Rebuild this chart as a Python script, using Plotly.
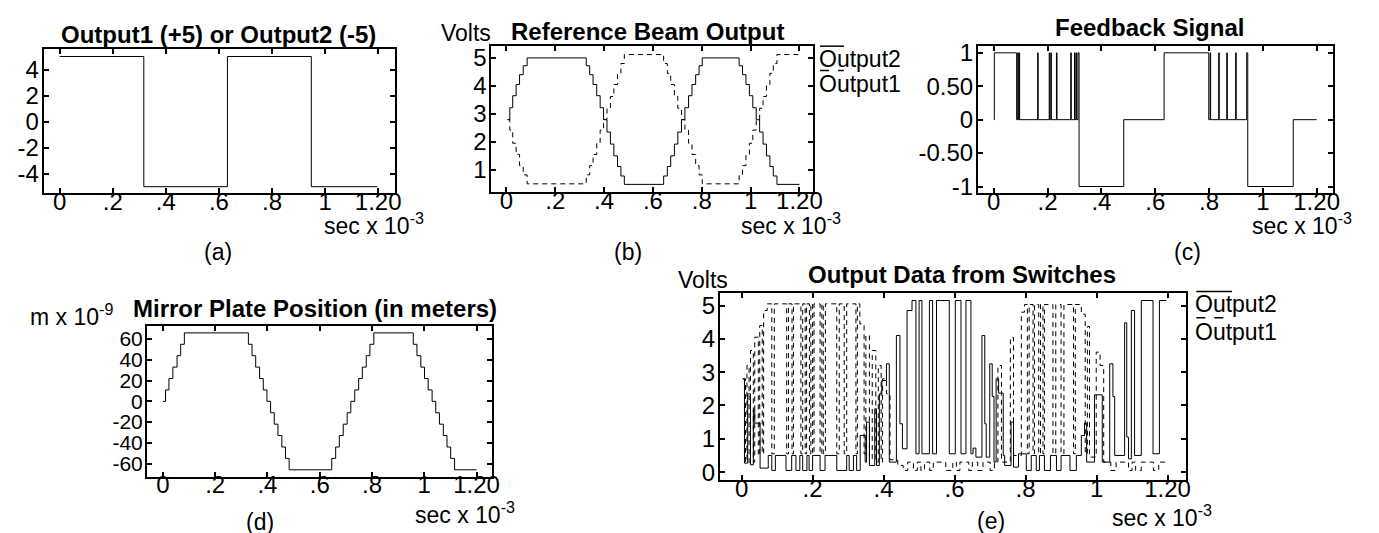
import plotly.graph_objects as go

W, H = 1379, 533
FONT = "Liberation Sans, Arial, Helvetica, sans-serif"

# ---------------- data (time in sec x 10^-3) ----------------
# (a) Output1 (+5) or Output2 (-5)
out_t = [0.000, 0.317, 0.632, 0.948, 1.197]
out_v = [5, -5, 5, -5, -5]

# (b) Reference beam output
b_t = [0.005, 0.014, 0.026, 0.040, 0.054, 0.069, 0.085,
       0.327, 0.341, 0.355, 0.370, 0.384, 0.398, 0.412, 0.426, 0.440, 0.455, 0.469, 0.483,
       0.644, 0.659, 0.673, 0.688, 0.702, 0.717, 0.731, 0.746, 0.760, 0.775, 0.789, 0.802,
       0.953, 0.967, 0.981, 0.995, 1.009, 1.023, 1.037, 1.051, 1.065, 1.079, 1.093, 1.108,
       1.200]
b_out2 = [2.79, 3.22, 3.65, 4.05, 4.40, 4.72, 5.00,
          4.72, 4.40, 4.05, 3.65, 3.22, 2.79, 2.35, 1.92, 1.50, 1.12, 0.78, 0.48,
          0.78, 1.12, 1.50, 1.92, 2.35, 2.79, 3.22, 3.65, 4.05, 4.40, 4.72, 5.00,
          4.72, 4.40, 4.05, 3.65, 3.22, 2.79, 2.35, 1.92, 1.50, 1.12, 0.78, 0.48,
          0.48]
b_out1 = [2.80, 2.42, 1.95, 1.55, 1.15, 0.82, 0.50,
          0.82, 1.15, 1.55, 1.95, 2.42, 2.80, 3.20, 3.62, 4.05, 4.45, 4.80, 5.12,
          4.80, 4.45, 4.05, 3.62, 3.20, 2.80, 2.42, 1.95, 1.55, 1.15, 0.82, 0.50,
          0.82, 1.15, 1.55, 1.95, 2.42, 2.80, 3.20, 3.62, 4.05, 4.45, 4.80, 5.12,
          5.12]

# (c) Feedback signal
fb_t = [0.000, 0.002, 0.085, 0.089, 0.091, 0.094, 0.096, 0.163, 0.165, 0.206, 0.208,
        0.212, 0.214, 0.233, 0.235, 0.286, 0.288, 0.300, 0.302, 0.306, 0.308, 0.313,
        0.317, 0.483, 0.633, 0.799, 0.804, 0.806, 0.836, 0.838, 0.866, 0.868, 0.899,
        0.901, 0.940, 0.944, 1.113, 1.200]
fb_v = [0, 1, 0, 1, 0, 1, 0, 1, 0, 1, 0,
        1, 0, 1, 0, 1, 0, 1, 0, 1, 0, 1,
        -1, 0, 1, 0, 1, 0, 1, 0, 1, 0, 1,
        0, 1, -1, 0, 0]

# (d) Mirror plate position (m x 10^-9)
mp_t = [0.000, 0.010, 0.023, 0.038, 0.054, 0.068, 0.082,
        0.327, 0.341, 0.355, 0.370, 0.384, 0.398, 0.412, 0.426, 0.440, 0.455, 0.469, 0.483,
        0.646, 0.661, 0.675, 0.690, 0.705, 0.719, 0.734, 0.749, 0.763, 0.778, 0.792, 0.807,
        0.958, 0.972, 0.987, 1.001, 1.015, 1.030, 1.044, 1.058, 1.073, 1.087, 1.101, 1.116,
        1.200]
mp_v = [0, 11, 22, 33, 44, 55, 66,
        55, 44, 33, 22, 11, 0, -11, -22, -33, -44, -55, -66,
        -55, -44, -33, -22, -11, 0, 11, 22, 33, 44, 55, 66,
        55, 44, 33, 22, 11, 0, -11, -22, -33, -44, -55, -66,
        -66]

# (e) Output data from switches
e_t2 = [0.003, 0.008, 0.017, 0.025, 0.033, 0.037, 0.052, 0.075, 0.085, 0.095, 0.125,
        0.141, 0.153, 0.164, 0.172, 0.184, 0.190, 0.200, 0.221, 0.235, 0.268, 0.296,
        0.303, 0.315, 0.324, 0.334, 0.348, 0.352, 0.360, 0.375, 0.380, 0.388, 0.395,
        0.408, 0.416, 0.436, 0.446, 0.453, 0.466, 0.480, 0.491, 0.500, 0.508, 0.529,
        0.538, 0.549, 0.585, 0.602, 0.618, 0.632, 0.646, 0.652, 0.660, 0.677, 0.685,
        0.689, 0.699, 0.706, 0.711, 0.717, 0.724, 0.737, 0.741, 0.759, 0.766, 0.780,
        0.802, 0.816, 0.830, 0.839, 0.853, 0.870, 0.887, 0.900, 0.925, 0.943, 0.957,
        0.966, 0.972, 0.994, 1.016, 1.037, 1.046, 1.051, 1.079, 1.085, 1.090, 1.098,
        1.107, 1.126, 1.159, 1.177, 1.196]
e_v2 = [2.80, 0.27, 2.35, 0.22, 1.86, 1.47, 0.12, 0.50, 0.05, 0.50, 0.05,
        0.50, 0.05, 0.50, 0.05, 0.50, 0.05, 0.50, 0.05, 0.50, 0.05, 0.50,
        0.05, 0.50, 0.05, 1.10, 0.30, 1.50, 0.20, 1.90, 0.20, 2.35, 2.75,
        3.25, 0.30, 4.10, 1.45, 0.70, 4.85, 5.15, 0.55, 5.15, 0.55, 5.15,
        0.55, 5.15, 0.55, 5.15, 0.55, 5.15, 0.55, 0.72, 0.45, 4.10, 1.45,
        0.45, 3.25, 2.27, 0.30, 2.80, 2.37, 0.50, 0.20, 1.50, 0.15, 0.55,
        0.05, 0.50, 0.05, 0.50, 0.05, 0.50, 0.05, 0.50, 0.05, 0.50, 1.10,
        1.47, 0.30, 2.32, 0.30, 3.25, 2.27, 0.50, 4.48, 1.05, 0.40, 4.85,
        0.50, 5.15, 0.55, 5.15, 5.15]
e_t1 = [0.003, 0.011, 0.015, 0.021, 0.025, 0.033, 0.037, 0.047, 0.051, 0.058, 0.062,
        0.072, 0.085, 0.092, 0.127, 0.132, 0.142, 0.146, 0.167, 0.172, 0.179, 0.183,
        0.191, 0.195, 0.200, 0.204, 0.221, 0.226, 0.230, 0.236, 0.268, 0.275, 0.289,
        0.296, 0.322, 0.326, 0.333, 0.345, 0.350, 0.360, 0.368, 0.378, 0.385, 0.393,
        0.397, 0.408, 0.418, 0.440, 0.455, 0.468, 0.484, 0.495, 0.505, 0.515, 0.530,
        0.540, 0.575, 0.595, 0.605, 0.615, 0.640, 0.650, 0.665, 0.680, 0.700, 0.712,
        0.722, 0.732, 0.757, 0.766, 0.788, 0.797, 0.805, 0.810, 0.821, 0.825, 0.837,
        0.842, 0.849, 0.853, 0.877, 0.885, 0.900, 0.908, 0.935, 0.940, 0.957, 0.968,
        0.974, 0.980, 0.999, 1.010, 1.020, 1.040, 1.055, 1.090, 1.100, 1.110, 1.126,
        1.160, 1.175, 1.196]
e_v1 = [2.80, 0.30, 3.20, 0.25, 3.65, 0.30, 4.05, 0.50, 4.40, 0.55, 4.85,
        5.05, 0.55, 5.05, 0.55, 5.05, 0.55, 5.05, 0.55, 5.05, 0.55, 5.05,
        0.55, 5.05, 0.55, 5.05, 0.55, 5.05, 0.55, 5.05, 0.55, 5.05, 0.55,
        5.05, 0.55, 5.05, 4.45, 0.55, 4.10, 0.40, 3.65, 0.30, 3.20, 0.30,
        2.80, 2.35, 0.37, 0.20, 0.05, 0.30, 0.05, 0.30, 0.05, 0.30, 0.05,
        0.30, 0.05, 0.30, 0.05, 0.30, 0.05, 0.30, 0.05, 0.30, 0.05, 0.30,
        3.20, 0.30, 4.04, 0.50, 4.80, 5.03, 0.55, 5.03, 0.55, 5.03, 0.55,
        5.03, 0.55, 5.03, 0.55, 5.03, 0.55, 5.03, 0.55, 5.03, 4.74, 0.55,
        4.37, 0.45, 3.60, 3.20, 0.30, 0.05, 0.30, 0.05, 0.30, 0.05, 0.30,
        0.05, 0.30, 0.30]

x_ticks = [0, 0.2, 0.4, 0.6, 0.8, 1.0, 1.2]
x_tick_text = ["0", ".2", ".4", ".6", ".8", "1", "1.20"]

# ---------------- layout helpers ----------------
def fx(x):
    return x / W

def fy(y):
    return 1 - y / H

panels = [
    dict(bx=(36, 390), by=(35, 183), xr=[-0.06, 1.264], yr=[-5.5, 5.57],
         yt=[-4, -2, 0, 2, 4], ytt=["-4", "-2", "0", "2", "4"], yfs=24),
    dict(bx=(487, 811), by=(32, 182), xr=[-0.061, 1.256], yr=[0.2, 5.42],
         yt=[1, 2, 3, 4, 5], ytt=["1", "2", "3", "4", "5"], yfs=24),
    dict(bx=(977, 1335), by=(32, 183), xr=[-0.059, 1.262], yr=[-1.1, 1.1],
         yt=[-1, -0.5, 0, 0.5, 1], ytt=["-1", "-0.50", "0", "0.50", "1"], yfs=24),
    dict(bx=(140, 488), by=(319, 474), xr=[-0.061, 1.261], yr=[-72.5, 73],
         yt=[-60, -40, -20, 0, 20, 40, 60], ytt=["-60", "-40", "-20", "0", "20", "40", "60"],
         yfs=21),
    dict(bx=(717, 1187), by=(285, 478), xr=[-0.0615, 1.253], yr=[-0.25, 5.39],
         yt=[0, 1, 2, 3, 4, 5], ytt=["0", "1", "2", "3", "4", "5"], yfs=24),
]

fig = go.Figure()
layout = dict(
    width=W, height=H, margin=dict(l=0, r=0, t=0, b=0),
    paper_bgcolor="white", plot_bgcolor="white", showlegend=False,
    font=dict(family=FONT, color="black", size=23),
)
axis_common = dict(showline=True, linewidth=2, linecolor="black", mirror="ticks",
                   ticks="inside", ticklen=5, tickwidth=1.5, tickcolor="black",
                   showgrid=False, zeroline=False)
for i, p in enumerate(panels, start=1):
    xa = "xaxis" if i == 1 else f"xaxis{i}"
    ya = "yaxis" if i == 1 else f"yaxis{i}"
    layout[xa] = dict(axis_common, domain=[fx(p["bx"][0]), fx(p["bx"][1])],
                      range=p["xr"], tickvals=x_ticks, ticktext=x_tick_text,
                      ticklabelstandoff=-14,
                      tickfont=dict(family=FONT, size=24, color="black"),
                      anchor="y" if i == 1 else f"y{i}")
    layout[ya] = dict(axis_common, domain=[fy(p["by"][1]), fy(p["by"][0])],
                      range=p["yr"], tickvals=p["yt"], ticktext=p["ytt"],
                      ticklabelstandoff=-2,
                      tickfont=dict(family=FONT, size=p["yfs"], color="black"),
                      anchor="x" if i == 1 else f"x{i}")

def add_line(x, y, i, dash="solid", name=""):
    fig.add_trace(go.Scatter(
        x=x, y=y, mode="lines", name=name,
        line=dict(color="black", width=1, shape="hv", dash=dash),
        xaxis="x" if i == 1 else f"x{i}", yaxis="y" if i == 1 else f"y{i}",
        hoverinfo="skip"))

DASH = "5px,4px"
add_line(out_t, out_v, 1, name="Output")
add_line(b_t, b_out2, 2, name="Output2")
add_line(b_t, b_out1, 2, dash=DASH, name="Output1")
add_line(fb_t, fb_v, 3, name="Feedback")
add_line(mp_t, mp_v, 4, name="Mirror")
add_line(e_t2, e_v2, 5, name="Output2")
add_line(e_t1, e_v1, 5, dash=DASH, name="Output1")

ann = []
def text(x, y, s, size=23, bold=False, xanchor="center"):
    ann.append(dict(x=fx(x), y=fy(y), xref="paper", yref="paper",
                    text=f"<b>{s}</b>" if bold else s,
                    showarrow=False, xanchor=xanchor, yanchor="middle",
                    font=dict(family=FONT, size=size, color="black")))

# titles
text(212, 20, "Output1 (+5) or Output2 (-5)", 24, True)
text(644, 17, "Reference Beam Output", 24, True)
text(1150, 13, "Feedback Signal", 24, True)
text(309, 301, "Mirror Plate Position (in meters)", 24, True)
text(961, 267, "Output Data from Switches", 24, True)
# unit labels
text(434, 18, "Volts", 23, xanchor="left")
text(673, 272, "Volts", 23, xanchor="left")
text(20, 308, "m x 10<sup>-9</sup>", 23, xanchor="left")
for (x0, y0) in [(316, 215), (736, 215), (1251, 215), (408, 511), (1110, 515)]:
    text(x0, y0, "sec x 10<sup>-3</sup>", 23, xanchor="left")
# panel letters
for (x0, y0, s) in [(212, 243, "(a)"), (625, 243, "(b)"), (1188, 243, "(c)"),
                    (254, 521, "(d)"), (990, 520, "(e)")]:
    text(x0, y0, s, 23)
# legends
text(815, 45, "Output2", 23, xanchor="left")
text(815, 71, "Output1", 23, xanchor="left")
text(1194, 297, "Output2", 23, xanchor="left")
text(1194, 326, "Output1", 23, xanchor="left")

shapes = []
for (x0, x1, y0, dash) in [(818, 842, 32, "solid"), (818, 842, 57, "dash"),
                           (1197, 1233, 284, "solid"), (1197, 1233, 311, "dash")]:
    shapes.append(dict(type="line", xref="paper", yref="paper",
                       x0=fx(x0), x1=fx(x1), y0=fy(y0), y1=fy(y0),
                       line=dict(color="black", width=1.5, dash=dash)))

layout["annotations"] = ann
layout["shapes"] = shapes
fig.update_layout(**layout)
fig.write_html("out.html")
